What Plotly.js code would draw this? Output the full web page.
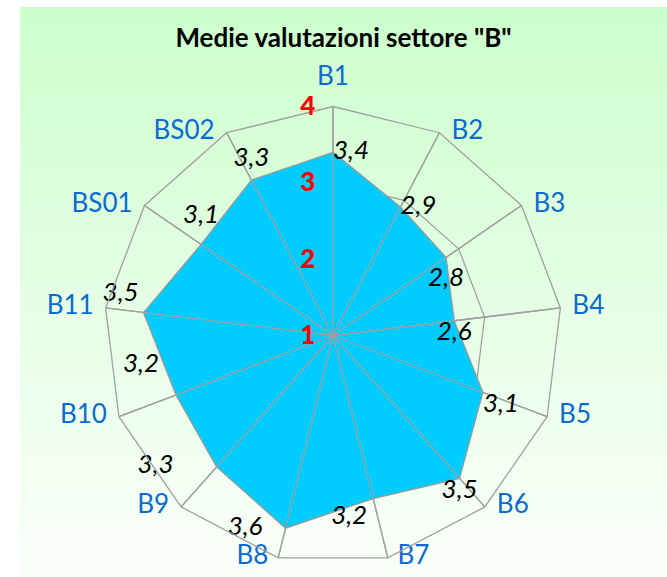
<!DOCTYPE html>
<html>
<head>
<meta charset="utf-8">
<script src="https://cdn.plot.ly/plotly-3.0.1.min.js"></script>
<style>
  html, body { margin: 0; padding: 0; background: #ffffff; }
  #bg { position: absolute; left: 20px; top: 7px; width: 647px; height: 570px;
        background: linear-gradient(to bottom, #ccffcc 0%, #e6ffe6 55%, #fbfffb 100%); }
  #chart { position: absolute; left: 0; top: 0; width: 667px; height: 577px; }
</style>
</head>
<body>
<div id="bg"></div>
<div id="chart"></div>
<script>
// ---- data ----
const categories = ["B1", "B2", "B3", "B4", "B5", "B6", "B7", "B8", "B9", "B10", "B11", "BS01", "BS02"];
const values = [3.4, 2.9, 2.8, 2.6, 3.1, 3.5, 3.2, 3.6, 3.3, 3.2, 3.5, 3.1, 3.3];
const radialTickVals = [1, 2, 3, 4];
const radialTickText = ["1", "2", "3", "4"];
const chartTitle = 'Medie valutazioni settore "B"';

// ---- styles (label placement) ----
const valueLabelPositions = ["middle right", "middle right", "bottom center", "bottom center", "bottom right",
  "bottom center", "bottom left", "middle left", "middle left", "top left", "top left", "top center", "top center"];
const valueLabelPads = [0, 0, 12.8, 0, 0, 0, 8, 35.2, 67.2, 25.6, 6.4, 22.4, 11.2];
const catLabelPositions = ["top center", "middle right", "middle right", "middle right", "middle right", "middle right",
  "middle right", "middle left", "middle left", "middle left", "middle left", "middle left", "middle left"];
const catLabelPads = [22.4, 17.6, 17.6, 17.6, 17.6, 17.6, 14, 14, 17.6, 17.6, 17.6, 17.6, 17.6];
const gridGray = "#a0a0a0";
const FONT = "Lato, 'Open Sans', sans-serif";
const rMin = radialTickVals[0], rMax = radialTickVals[radialTickVals.length - 1];

const closedTheta = categories.concat([categories[0]]);
const closedR = values.concat([values[0]]);

const fillTrace = {
  type: "scatterpolar", mode: "lines",
  r: closedR, theta: closedTheta,
  fill: "toself", fillcolor: "#00ccff",
  line: { color: "#9a9a9a", width: 1.3 },
  hoverinfo: "skip", showlegend: false
};

// spokes drawn above the fill
const spokeR = [], spokeT = [];
categories.forEach(c => { spokeR.push(rMin, rMax, null); spokeT.push(c, c, c); });
const spokeTrace = {
  type: "scatterpolar", mode: "lines",
  r: spokeR, theta: spokeT, connectgaps: false,
  line: { color: gridGray, width: 1.3 },
  hoverinfo: "skip", showlegend: false
};

// value labels (invisible markers only set the text offset)
const labelTrace = {
  type: "scatterpolar", mode: "markers+text",
  r: values, theta: categories,
  text: values.map(v => v.toFixed(1).replace(".", ",")),
  textposition: valueLabelPositions,
  marker: { size: valueLabelPads, opacity: 0 },
  textfont: { family: FONT, size: 26, color: "#000000", style: "italic" },
  hoverinfo: "skip", showlegend: false, cliponaxis: false
};

// category labels at the outer ring
const catTrace = {
  type: "scatterpolar", mode: "markers+text",
  r: categories.map(() => rMax), theta: categories,
  text: categories,
  textposition: catLabelPositions,
  marker: { size: catLabelPads, opacity: 0 },
  textfont: { family: FONT, size: 26, color: "#0a6ad0" },
  hoverinfo: "skip", showlegend: false, cliponaxis: false
};

const W = 667, H = 577;
const cx = 333, cy = 335.5, R = 229;

const layout = {
  width: W, height: H,
  margin: { l: 0, r: 0, t: 0, b: 0 },
  paper_bgcolor: "rgba(0,0,0,0)",
  plot_bgcolor: "rgba(0,0,0,0)",
  showlegend: false,
  title: {
    text: "<b>" + chartTitle + "</b>",
    font: { family: FONT, size: 26, color: "#000000" },
    x: 343.5 / W, xanchor: "center", y: 1 - 38 / H, yanchor: "middle"
  },
  polar: {
    domain: { x: [(cx - R) / W, (cx + R) / W], y: [(H - cy - R) / H, (H - cy + R) / H] },
    bgcolor: "rgba(0,0,0,0)",
    gridshape: "linear",
    angularaxis: {
      type: "category", direction: "clockwise", rotation: 90,
      categoryarray: categories,
      showline: true, linecolor: gridGray, linewidth: 1.3,
      showgrid: true, gridcolor: gridGray, gridwidth: 1.3,
      ticks: "", showticklabels: false
    },
    radialaxis: {
      range: [rMin, rMax], angle: 90, side: "counterclockwise", tickangle: 90,
      tickvals: radialTickVals, ticktext: radialTickText,
      showline: false, showgrid: true, gridcolor: gridGray, gridwidth: 1.3,
      ticks: "outside", ticklen: 8, tickcolor: "rgba(0,0,0,0)",
      tickfont: { family: FONT, size: 26, color: "#ff0000", weight: 900 }
    }
  }
};

Plotly.newPlot("chart", [fillTrace, spokeTrace, labelTrace, catTrace], layout, { displayModeBar: false, staticPlot: true });
</script>
</body>
</html>
